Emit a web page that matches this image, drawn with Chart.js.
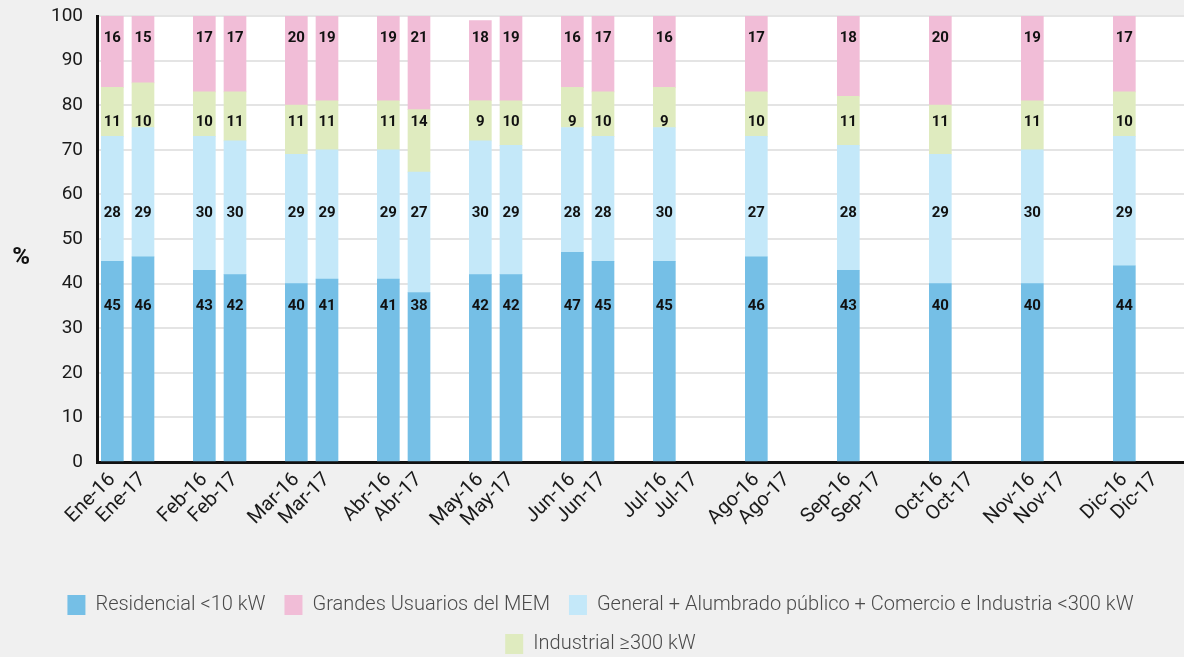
<!DOCTYPE html>
<html>
<head>
<meta charset="utf-8">
<script src="https://cdn.jsdelivr.net/npm/chart.js@4.4.1/dist/chart.umd.min.js"></script>
<style>
    html, body { margin: 0; padding: 0; background: #f0f0f0; overflow: hidden; }
    /* el area del grafico sigue un poco por la derecha, fuera del recorte */
    #wrap { width: 1201px; height: 657px; }
</style>
</head>
<body>
<div id="wrap"><canvas id="chart"></canvas></div>
<script>
// meses en pares 2016 / 2017
const categories = ['Ene-16', 'Ene-17', 'Feb-16', 'Feb-17', 'Mar-16', 'Mar-17', 'Abr-16', 'Abr-17',
    'May-16', 'May-17', 'Jun-16', 'Jun-17', 'Jul-16', 'Jul-17', 'Ago-16', 'Ago-17',
    'Sep-16', 'Sep-17', 'Oct-16', 'Oct-17', 'Nov-16', 'Nov-17', 'Dic-16', 'Dic-17'];

const residencial = [45, 46, 43, 42, 40, 41, 41, 38, 42, 42, 47, 45, 45, null, 46, null, 43, null, 40, null, 40, null, 44, null];
const general     = [28, 29, 30, 30, 29, 29, 29, 27, 30, 29, 28, 28, 30, null, 27, null, 28, null, 29, null, 30, null, 29, null];
const industrial  = [11, 10, 10, 11, 11, 11, 11, 14, 9, 10, 9, 10, 9, null, 10, null, 11, null, 11, null, 11, null, 10, null];
const grandes     = [16, 15, 17, 17, 20, 19, 19, 21, 18, 19, 16, 17, 16, null, 17, null, 18, null, 20, null, 19, null, 17, null];

const yTicks = [0, 10, 20, 30, 40, 50, 60, 70, 80, 90, 100];

// un hueco vacio despues de cada par de meses
function withGaps(arr, empty) {
    let out = [];
    for (let i = 0; i < arr.length; i++) {
        out.push(arr[i]);
        if (i % 2 === 1) out.push(empty);
    }
    return out;
}

const FONT = 'Roboto, "DejaVu Sans", sans-serif';

const plotBackground = {
    id: 'plotBackground',
    beforeDraw(chart) {
        const {ctx, chartArea} = chart;
        ctx.save();
        ctx.fillStyle = '#ffffff';
        ctx.fillRect(chartArea.left, chartArea.top, chartArea.right - chartArea.left, chartArea.bottom - chartArea.top);
        ctx.restore();
    }
};

const segmentLabels = {
    id: 'segmentLabels',
    afterDatasetsDraw(chart) {
        const ctx = chart.ctx;
        const y = chart.scales.y;
        ctx.save();
        ctx.font = 'bold 15px ' + FONT;
        ctx.fillStyle = '#111111';
        ctx.textAlign = 'center';
        ctx.textBaseline = 'middle';
        chart.data.datasets.forEach((ds, i) => {
            const meta = chart.getDatasetMeta(i);
            meta.data.forEach((bar, j) => {
                const v = ds.data[j];
                if (v === null || v === undefined) return;
                ctx.fillText(v, bar.x, y.getPixelForValue(ds.labelLevel));
            });
        });
        ctx.restore();
    }
};

const percentTitle = {
    id: 'percentTitle',
    afterDraw(chart) {
        const ctx = chart.ctx;
        ctx.save();
        ctx.font = 'bold 24px ' + FONT;
        ctx.fillStyle = '#111111';
        ctx.textAlign = 'center';
        ctx.textBaseline = 'middle';
        ctx.fillText('%', 21, 258);
        ctx.restore();
    }
};

// baja un poco la leyenda
const legendShift = {
    id: 'legendShift',
    afterLayout(chart) {
        if (chart.legend) {
            chart.legend.top += 7;
            chart.legend.bottom += 7;
        }
    }
};

function noScalePadding(scale) {
    scale.paddingTop = 0;
    scale.paddingBottom = 0;
    scale.paddingLeft = 0;
    scale.paddingRight = 0;
}

// orden de la leyenda distinto del orden de apilado
const legendRank = [0, 2, 3, 1];

const config = {
    type: 'bar',
    data: {
        labels: withGaps(categories, ''),
        datasets: [
            {
                label: 'Residencial <10 kW',
                data: withGaps(residencial, null),
                backgroundColor: '#75bfe6',
                labelLevel: 35
            },
            {
                label: 'General + Alumbrado público + Comercio e Industria <300 kW',
                data: withGaps(general, null),
                backgroundColor: '#c4e8f9',
                labelLevel: 55.7
            },
            {
                label: 'Industrial ≥300 kW',
                data: withGaps(industrial, null),
                backgroundColor: '#dfebbf',
                labelLevel: 76.2
            },
            {
                label: 'Grandes Usuarios del MEM',
                data: withGaps(grandes, null),
                backgroundColor: '#f1bdd7',
                labelLevel: 95.1
            }
        ]
    },
    options: {
        responsive: true,
        maintainAspectRatio: false,
        animation: false,
        layout: { padding: { top: 16, left: 0, right: 0, bottom: 0 } },
        datasets: { bar: { barThickness: 22, borderWidth: 0 } },
        plugins: {
            tooltip: { enabled: false },
            legend: {
                position: 'bottom',
                labels: {
                    boxWidth: 18,
                    boxHeight: 20,
                    padding: 19,
                    color: '#4a4a4a',
                    font: { family: FONT, size: 20, weight: '300' },
                    sort: (a, b) => legendRank[a.datasetIndex] - legendRank[b.datasetIndex]
                }
            }
        },
        scales: {
            x: {
                stacked: true,
                grid: { display: false, drawTicks: false },
                border: { display: true, color: '#111111', width: 3 },
                ticks: {
                    autoSkip: false,
                    maxRotation: 45,
                    minRotation: 45,
                    padding: 6,
                    color: '#1a1a1a',
                    font: { family: FONT, size: 20 }
                },
                afterFit(scale) {
                    scale.height = 107;
                    noScalePadding(scale);
                }
            },
            y: {
                stacked: true,
                min: 0,
                max: 100,
                afterBuildTicks(scale) { scale.ticks = yTicks.map(v => ({ value: v })); },
                grid: { color: '#e4e4e4', lineWidth: 2, drawTicks: false },
                border: { display: true, color: '#111111', width: 3 },
                ticks: {
                    padding: 14,
                    color: '#1a1a1a',
                    font: { family: FONT, size: 19 }
                },
                afterFit(scale) {
                    scale.width = 97;
                    noScalePadding(scale);
                }
            }
        }
    },
    plugins: [plotBackground, segmentLabels, percentTitle, legendShift]
};

new Chart(document.getElementById('chart'), config);
</script>
</body>
</html>
